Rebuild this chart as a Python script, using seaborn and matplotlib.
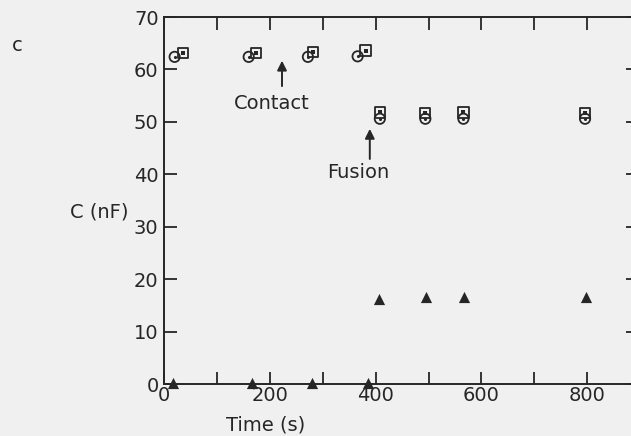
import numpy as np
import pandas as pd
import matplotlib
matplotlib.use('Agg')
import matplotlib.pyplot as plt
import seaborn as sns

# values
circle_t = [20, 160, 272, 366, 408, 494, 566, 796]
circle_c = [62.4, 62.4, 62.4, 62.5, 50.6, 50.6, 50.6, 50.6]
square_t = [36, 174, 281, 381, 408, 494, 566, 796]
square_c = [63.2, 63.2, 63.3, 63.6, 51.8, 51.7, 51.8, 51.7]
tri_t = [17, 166, 279, 385, 406, 496, 568, 798]
tri_c = [0.2, 0.2, 0.2, 0.2, 16.2, 16.6, 16.6, 16.6]

x_ticks_major = [0, 200, 400, 600, 800]
y_ticks = [0, 10, 20, 30, 40, 50, 60, 70]

ink = '#262626'
paper = '#f0f0f0'

sns.set_theme(style='ticks')
plt.rcParams['font.family'] = ['DejaVu Sans']

fig = plt.figure(figsize=(6.31, 4.36), dpi=100, facecolor=paper)
# right spine sits just past the picture edge, as in the scan
ax = fig.add_axes([0.26, 0.119, 0.751, 0.842])
ax.set_facecolor(paper)

circles = pd.DataFrame({'t': circle_t, 'c': circle_c})
squares = pd.DataFrame({'t': square_t, 'c': square_c})
tris = pd.DataFrame({'t': tri_t, 'c': tri_c})

sns.scatterplot(data=circles, x='t', y='c', marker='o', s=55, facecolor='none',
                edgecolor=ink, linewidth=1.3, ax=ax, zorder=3)
sns.scatterplot(data=circles, x='t', y='c', marker='o', s=5, color=ink,
                linewidth=0, ax=ax, zorder=4)
sns.scatterplot(data=squares, x='t', y='c', marker='s', s=55, facecolor='none',
                edgecolor=ink, linewidth=1.3, ax=ax, zorder=3)
sns.scatterplot(data=squares, x='t', y='c', marker='s', s=5, color=ink,
                linewidth=0, ax=ax, zorder=4)
sns.scatterplot(data=tris, x='t', y='c', marker='^', s=65, color=ink,
                linewidth=0, ax=ax, zorder=5, clip_on=False)

ax.set_xlim(0, 896)
ax.set_ylim(0, 70)
ax.set_xticks(x_ticks_major)
ax.set_xticks(np.arange(100, 900, 200), minor=True)
ax.set_yticks(y_ticks)
ax.tick_params(axis='x', which='both', direction='in', top=True, length=9,
               width=1.3, colors=ink, labelsize=14, pad=1)
ax.tick_params(axis='y', direction='in', right=True, length=9, width=1.3,
               colors=ink, labelsize=14, pad=4)
for s in ax.spines.values():
    s.set_color(ink)
    s.set_linewidth(1.4)

ax.set_xlabel('Time (s)', fontsize=14, color=ink, va='center')
ax.xaxis.set_label_coords(0.214, -0.112)
ax.set_ylabel('C (nF)', fontsize=14, color=ink, rotation=0, va='center')
ax.yaxis.set_label_coords(-0.136, 0.469)

ax.annotate('', xy=(223, 62.2), xytext=(223, 56.3),
            arrowprops=dict(arrowstyle='-|>', color=ink, lw=1.4, mutation_scale=14))
ax.text(203, 53.6, 'Contact', ha='center', va='center', fontsize=14, color=ink)
ax.annotate('', xy=(389, 49.2), xytext=(389, 42.4),
            arrowprops=dict(arrowstyle='-|>', color=ink, lw=1.4, mutation_scale=14))
ax.text(368, 40.4, 'Fusion', ha='center', va='center', fontsize=14, color=ink)

fig.text(0.028, 0.896, 'c', fontsize=14, color=ink, ha='center', va='center')

fig.savefig('out.png', dpi=100, facecolor=paper)
